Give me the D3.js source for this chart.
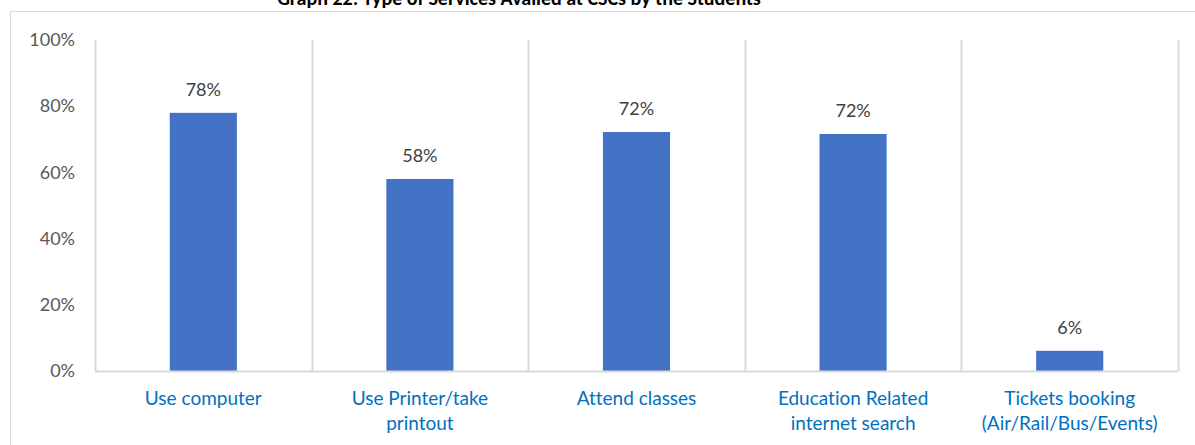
<!DOCTYPE html>
<html>
<head>
<meta charset="utf-8">
<script src="https://cdn.jsdelivr.net/npm/d3@7"></script>
<style>
  html, body { margin: 0; padding: 0; background: #fff; }
  svg { display: block; }
  text { font-variant-ligatures: none; font-feature-settings: "liga" 0, "clig" 0; }
</style>
</head>
<body>
<svg id="chart" width="1195" height="445"></svg>
<script>
// Services availed at CSCs by students (share of respondents, %)
const categories = [
  ["Use computer"],
  ["Use Printer/take", "printout"],
  ["Attend classes"],
  ["Education Related", "internet search"],
  ["Tickets booking", "(Air/Rail/Bus/Events)"]
];
const values = [78, 58, 72.2, 71.6, 6.1];
const yTicks = [0, 20, 40, 60, 80, 100];
const titleText = "Graph 22: Type of Services Availed at CSCs by the Students";

const svg = d3.select("#chart");
const font = "Lato, 'Open Sans', sans-serif";

const margin = { left: 95, right: 1178, top: 40, bottom: 371 };

const x = d3.scaleBand()
  .domain(d3.range(categories.length))
  .range([margin.left, margin.right])
  .paddingInner(0).paddingOuter(0);

const y = d3.scaleLinear().domain([0, 100]).range([margin.bottom, margin.top]);

// outer chart frame
svg.append("rect")
  .attr("x", 10.5).attr("y", 11.5)
  .attr("width", 1300).attr("height", 500)
  .attr("fill", "none").attr("stroke", "#d9d9d9").attr("stroke-width", 1);

// title
svg.append("text")
  .attr("x", 519).attr("y", 5)
  .attr("text-anchor", "middle")
  .attr("font-family", "Calibri, Carlito, " + font)
  .attr("font-weight", "bold")
  .attr("font-size", 20)
  .attr("fill", "#000")
  .text(titleText);

// vertical category separators
const bounds = d3.range(categories.length + 1).map(i =>
  i < categories.length ? x(i) : x(categories.length - 1) + x.bandwidth());
svg.append("g").selectAll("line").data(bounds).join("line")
  .attr("x1", d => Math.round(d) + 0.5).attr("x2", d => Math.round(d) + 0.5)
  .attr("y1", margin.top).attr("y2", margin.bottom)
  .attr("stroke", "#d9d9d9").attr("stroke-width", 2);

// y axis labels
const yAxis = d3.axisLeft(y).tickValues(yTicks).tickFormat(d => d + "%").tickSize(0).tickPadding(20);
const yg = svg.append("g").attr("transform", `translate(${margin.left},0)`).call(yAxis);
yg.select(".domain").remove();
yg.selectAll("text")
  .attr("font-family", font).attr("font-size", 18).attr("fill", "#595959");

// bars
const barW = x.bandwidth() * 0.31;
svg.append("g").selectAll("rect").data(values).join("rect")
  .attr("x", (d, i) => x(i) + (x.bandwidth() - barW) / 2)
  .attr("width", barW)
  .attr("y", d => y(d))
  .attr("height", d => y(0) - y(d))
  .attr("fill", "#4472c4");

// value labels
svg.append("g").selectAll("text").data(values).join("text")
  .attr("x", (d, i) => x(i) + x.bandwidth() / 2)
  .attr("y", d => y(d) - 17)
  .attr("text-anchor", "middle")
  .attr("font-family", font).attr("font-size", 18).attr("fill", "#404040")
  .text(d => Math.round(d) + "%");

// baseline
svg.append("line")
  .attr("x1", margin.left).attr("x2", margin.right)
  .attr("y1", margin.bottom + 0.5).attr("y2", margin.bottom + 0.5)
  .attr("stroke", "#d9d9d9").attr("stroke-width", 2);

// category labels
const xg = svg.append("g").selectAll("text").data(categories).join("text")
  .attr("text-anchor", "middle")
  .attr("font-family", font).attr("font-size", 19).attr("fill", "#0070c0");
xg.each(function(lines, i) {
  d3.select(this).selectAll("tspan").data(lines).join("tspan")
    .attr("x", x(i) + x.bandwidth() / 2)
    .attr("y", (l, j) => 405 + j * 25)
    .text(l => l);
});
</script>
</body>
</html>
